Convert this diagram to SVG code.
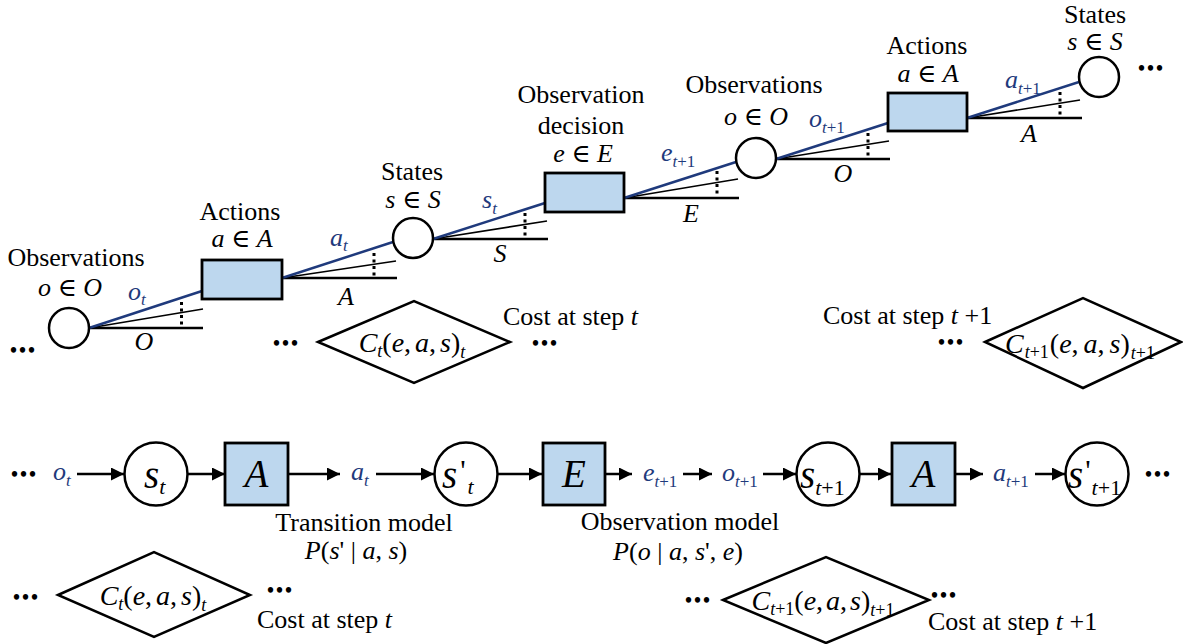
<svg xmlns="http://www.w3.org/2000/svg" width="1183" height="644" viewBox="0 0 1183 644">
  <style>
    text { font-family: "Liberation Serif", "Times New Roman", "DejaVu Serif", serif; font-size: 26px; fill: #000; }
    .it { font-style: italic; }
    .blue { fill: #1f3a7c; }
    .sub { font-size: 17px; }
    .cost { font-size: 28px; }
    .csub { font-size: 18px; }
    .big { font-size: 39px; }
    .bsub { font-size: 22px; }
    .dots { font-weight: bold; font-size: 20px; letter-spacing: 2px; }
    .node circle { fill: #fff; stroke: #000; stroke-width: 2.5; }
    .node rect { fill: #bdd7ee; stroke: #000; stroke-width: 2.8; }
    .node polygon { fill: #fff; stroke: #000; stroke-width: 2.5; stroke-linejoin: miter; }
    .bl { stroke: #1f3a7c; stroke-width: 2.5; }
    .thin { stroke: #000; stroke-width: 1.6; }
    .hz { stroke: #000; stroke-width: 2.6; }
    .dot { stroke: #000; stroke-width: 3; stroke-dasharray: 3 3.5; }
    .arrow { stroke: #000; stroke-width: 2.5; fill: none; marker-end: url(#ah); }
  </style>
  <defs>
    <marker id="ah" markerUnits="userSpaceOnUse" markerWidth="14" markerHeight="14" refX="13" refY="6.5" orient="auto">
      <path d="M0,0 L13,6.5 L0,13 z" fill="#000"/>
    </marker>
  </defs>

  <!-- ===== Upper chain: fan-out between consecutive nodes ===== -->
  <g id="connectors">
    <!-- segment 1: observations -> actions -->
    <line class="hz" x1="89" y1="328" x2="203" y2="328"/>
    <line class="thin" x1="89" y1="328" x2="203" y2="309"/>
    <line class="bl" x1="89" y1="328" x2="202" y2="291"/>
    <line class="dot" x1="181.5" y1="302" x2="181.5" y2="327"/>
    <!-- segment 2: actions -> states -->
    <line class="hz" x1="282" y1="278" x2="397" y2="278"/>
    <line class="thin" x1="282" y1="278" x2="396" y2="261"/>
    <line class="bl" x1="282" y1="278" x2="393" y2="242"/>
    <line class="dot" x1="374" y1="253" x2="374" y2="277"/>
    <!-- segment 3: states -> observation decision -->
    <line class="hz" x1="433" y1="239" x2="548" y2="239"/>
    <line class="thin" x1="433" y1="239" x2="547" y2="221"/>
    <line class="bl" x1="433" y1="239" x2="545" y2="203"/>
    <line class="dot" x1="525" y1="213" x2="525" y2="238"/>
    <!-- segment 4: observation decision -> observations -->
    <line class="hz" x1="624" y1="198" x2="739" y2="198"/>
    <line class="thin" x1="624" y1="198" x2="738" y2="179"/>
    <line class="bl" x1="624" y1="198" x2="736" y2="162"/>
    <line class="dot" x1="717" y1="171" x2="717" y2="197"/>
    <!-- segment 5: observations -> actions -->
    <line class="hz" x1="776" y1="159" x2="890" y2="159"/>
    <line class="thin" x1="776" y1="159" x2="889" y2="141"/>
    <line class="bl" x1="776" y1="159" x2="888" y2="123"/>
    <line class="dot" x1="868" y1="133" x2="868" y2="158"/>
    <!-- segment 6: actions -> states -->
    <line class="hz" x1="967" y1="118" x2="1082" y2="118"/>
    <line class="thin" x1="967" y1="118" x2="1080" y2="100"/>
    <line class="bl" x1="967" y1="118" x2="1079" y2="82"/>
    <line class="dot" x1="1060" y1="92" x2="1060" y2="117"/>

    <!-- lower chain arrows -->
    <line class="arrow" x1="77" y1="474" x2="124" y2="474"/>
    <line class="arrow" x1="188" y1="474" x2="225" y2="474"/>
    <line class="arrow" x1="288" y1="474" x2="340" y2="474"/>
    <line class="arrow" x1="376" y1="474" x2="434" y2="474"/>
    <line class="arrow" x1="497" y1="474" x2="542" y2="474"/>
    <line class="arrow" x1="605" y1="474" x2="632" y2="474"/>
    <line class="arrow" x1="683" y1="474" x2="712" y2="474"/>
    <line class="arrow" x1="763" y1="474" x2="796" y2="474"/>
    <line class="arrow" x1="860" y1="474" x2="891" y2="474"/>
    <line class="arrow" x1="955" y1="474" x2="983" y2="474"/>
    <line class="arrow" x1="1035" y1="474" x2="1065" y2="474"/>
  </g>

  <!-- edge labels of the upper chain -->
  <g id="edge-labels">
    <text x="128" y="300" class="blue it">o<tspan class="sub" dy="5">t</tspan></text>
    <text x="330" y="246" class="blue it">a<tspan class="sub" dy="5">t</tspan></text>
    <text x="482" y="208" class="blue it">s<tspan class="sub" dy="6">t</tspan></text>
    <text x="661" y="161" class="blue"><tspan class="it">e</tspan><tspan class="sub" dy="6"><tspan class="it">t</tspan>+1</tspan></text>
    <text x="809" y="127" class="blue"><tspan class="it">o</tspan><tspan class="sub" dy="6"><tspan class="it">t</tspan>+1</tspan></text>
    <text x="1005" y="88" class="blue"><tspan class="it">a</tspan><tspan class="sub" dy="6"><tspan class="it">t</tspan>+1</tspan></text>

    <text x="144" y="350" class="it" text-anchor="middle">O</text>
    <text x="346" y="305" class="it" text-anchor="middle">A</text>
    <text x="500" y="262" class="it" text-anchor="middle">S</text>
    <text x="691" y="222" class="it" text-anchor="middle">E</text>
    <text x="843" y="182" class="it" text-anchor="middle">O</text>
    <text x="1029" y="142" class="it" text-anchor="middle">A</text>
  </g>

  <!-- ===== Upper chain nodes ===== -->
  <g id="obs-1" class="node">
    <circle cx="69" cy="328" r="20"/>
    <text x="76" y="266" text-anchor="middle">Observations</text>
    <text x="70" y="296" text-anchor="middle"><tspan class="it">o</tspan> ∈ <tspan class="it">O</tspan></text>
  </g>
  <g id="act-1" class="node">
    <rect x="202" y="260" width="80" height="39"/>
    <text x="240" y="220" text-anchor="middle">Actions</text>
    <text x="242" y="247" text-anchor="middle"><tspan class="it">a</tspan> ∈ <tspan class="it">A</tspan></text>
  </g>
  <g id="state-1" class="node">
    <circle cx="413" cy="238" r="20"/>
    <text x="412" y="180" text-anchor="middle">States</text>
    <text x="413" y="208" text-anchor="middle"><tspan class="it">s</tspan> ∈ <tspan class="it">S</tspan></text>
  </g>
  <g id="obs-decision" class="node">
    <rect x="545" y="173" width="79" height="39"/>
    <text x="581" y="103" text-anchor="middle">Observation</text>
    <text x="581" y="134" text-anchor="middle">decision</text>
    <text x="583" y="162" text-anchor="middle"><tspan class="it">e</tspan> ∈ <tspan class="it">E</tspan></text>
  </g>
  <g id="obs-2" class="node">
    <circle cx="756" cy="158" r="20"/>
    <text x="754" y="93" text-anchor="middle">Observations</text>
    <text x="756" y="125" text-anchor="middle"><tspan class="it">o</tspan> ∈ <tspan class="it">O</tspan></text>
  </g>
  <g id="act-2" class="node">
    <rect x="888" y="93" width="79" height="38"/>
    <text x="927" y="54" text-anchor="middle">Actions</text>
    <text x="928" y="82" text-anchor="middle"><tspan class="it">a</tspan> ∈ <tspan class="it">A</tspan></text>
  </g>
  <g id="state-2" class="node">
    <circle cx="1099" cy="77" r="20"/>
    <text x="1095" y="23" text-anchor="middle">States</text>
    <text x="1095" y="50" text-anchor="middle"><tspan class="it">s</tspan> ∈ <tspan class="it">S</tspan></text>
  </g>

  <!-- upper cost diamonds -->
  <g id="cost-top-1" class="node">
    <polygon points="318,342 414,301 510,342 414,383"/>
    <text x="412" y="352" class="cost" text-anchor="middle"><tspan class="it">C</tspan><tspan class="csub it" dy="5">t</tspan><tspan dy="-5">(</tspan><tspan class="it">e</tspan>,<tspan class="it" dx="4">a</tspan>,<tspan class="it" dx="4">s</tspan>)<tspan class="csub it" dy="6">t</tspan></text>
    <text x="503" y="325">Cost at step <tspan class="it">t</tspan></text>
  </g>
  <g id="cost-top-2" class="node">
    <polygon points="985,342 1083,298 1181,342 1083,388"/>
    <text x="1080" y="353" class="cost" text-anchor="middle"><tspan class="it">C</tspan><tspan class="csub" dy="5" dx="1"><tspan class="it">t</tspan>+1</tspan><tspan dy="-5" dx="1">(</tspan><tspan class="it">e</tspan>,<tspan class="it" dx="5">a</tspan>,<tspan class="it" dx="5">s</tspan>)<tspan class="csub" dy="6" dx="1"><tspan class="it">t</tspan>+1</tspan></text>
    <text x="823" y="324">Cost at step <tspan class="it">t</tspan> +1</text>
  </g>

  <!-- ellipses of the upper chain -->
  <g id="ellipses-top">
    <text class="dots" x="10" y="357">•••</text>
    <text class="dots" x="273" y="350">•••</text>
    <text class="dots" x="532" y="350">•••</text>
    <text class="dots" x="938" y="349">•••</text>
    <text class="dots" x="1138" y="75">•••</text>
  </g>

  <!-- ===== Lower chain ===== -->
  <g id="o-t">
    <text x="53" y="480" class="blue it">o<tspan class="sub" dy="6">t</tspan></text>
  </g>
  <g id="s-t" class="node">
    <circle cx="156" cy="474" r="31.5"/>
    <text x="144" y="488" class="it big">s<tspan class="bsub" dy="6">t</tspan></text>
  </g>
  <g id="act-t" class="node">
    <rect x="225" y="443" width="63" height="62"/>
    <text x="256.5" y="487" class="it big" text-anchor="middle">A</text>
  </g>
  <g id="a-t">
    <text x="351" y="480" class="blue it">a<tspan class="sub" dy="6">t</tspan></text>
  </g>
  <g id="s-prime-t" class="node">
    <circle cx="466" cy="474" r="31.5"/>
    <text x="442" y="488" class="big"><tspan class="it">s</tspan><tspan dx="3" font-size="30" dy="-8">'</tspan><tspan class="bsub it" dx="2" dy="14">t</tspan></text>
  </g>
  <g id="obs-choice" class="node">
    <rect x="543" y="443" width="62" height="62"/>
    <text x="574" y="487" class="it big" text-anchor="middle">E</text>
  </g>
  <g id="e-t1">
    <text x="643" y="481" class="blue"><tspan class="it">e</tspan><tspan class="sub" dy="6"><tspan class="it">t</tspan>+1</tspan></text>
  </g>
  <g id="o-t1">
    <text x="722" y="481" class="blue"><tspan class="it">o</tspan><tspan class="sub" dy="6"><tspan class="it">t</tspan>+1</tspan></text>
  </g>
  <g id="s-t1" class="node">
    <circle cx="828" cy="474" r="31.5"/>
    <text x="800" y="488" class="big"><tspan class="it">s</tspan><tspan class="bsub" dy="7"><tspan class="it">t</tspan>+1</tspan></text>
  </g>
  <g id="act-t1" class="node">
    <rect x="892" y="443" width="63" height="62"/>
    <text x="923.5" y="487" class="it big" text-anchor="middle">A</text>
  </g>
  <g id="a-t1">
    <text x="993" y="481" class="blue"><tspan class="it">a</tspan><tspan class="sub" dy="6"><tspan class="it">t</tspan>+1</tspan></text>
  </g>
  <g id="s-prime-t1" class="node">
    <circle cx="1097" cy="474" r="31.5"/>
    <text x="1068" y="488" class="big"><tspan class="it">s</tspan><tspan dx="2" font-size="30" dy="-8">'</tspan><tspan class="bsub" dx="1" dy="15"><tspan class="it">t</tspan>+1</tspan></text>
  </g>

  <!-- model captions -->
  <g id="transition-model">
    <text x="364" y="531" text-anchor="middle">Transition model</text>
    <text x="356" y="559" text-anchor="middle"><tspan class="it">P</tspan>(<tspan class="it">s</tspan>' | <tspan class="it">a</tspan>, <tspan class="it">s</tspan>)</text>
  </g>
  <g id="observation-model">
    <text x="680" y="530" text-anchor="middle">Observation model</text>
    <text x="678" y="560" text-anchor="middle"><tspan class="it">P</tspan>(<tspan class="it">o</tspan> | <tspan class="it">a</tspan>, <tspan class="it">s</tspan>', <tspan class="it">e</tspan>)</text>
  </g>

  <!-- lower cost diamonds -->
  <g id="cost-bottom-1" class="node">
    <polygon points="58,595 154,552 250,595 154,637"/>
    <text x="153" y="605" class="cost" text-anchor="middle"><tspan class="it">C</tspan><tspan class="csub it" dy="5">t</tspan><tspan dy="-5">(</tspan><tspan class="it">e</tspan>,<tspan class="it" dx="4">a</tspan>,<tspan class="it" dx="4">s</tspan>)<tspan class="csub it" dy="6">t</tspan></text>
    <text x="257" y="628">Cost at step <tspan class="it">t</tspan></text>
  </g>
  <g id="cost-bottom-2" class="node">
    <polygon points="723,600 826,557 929,600 826,643"/>
    <text x="823" y="610" class="cost" text-anchor="middle"><tspan class="it">C</tspan><tspan class="csub" dy="5"><tspan class="it">t</tspan>+1</tspan><tspan dy="-5">(</tspan><tspan class="it">e</tspan>,<tspan class="it" dx="3">a</tspan>,<tspan class="it" dx="3">s</tspan>)<tspan class="csub" dy="6"><tspan class="it">t</tspan>+1</tspan></text>
    <text x="928" y="630">Cost at step <tspan class="it">t</tspan> +1</text>
  </g>

  <!-- ellipses of the lower chain -->
  <g id="ellipses-bottom">
    <text class="dots" x="11" y="481">•••</text>
    <text class="dots" x="1145" y="481">•••</text>
    <text class="dots" x="13" y="604">•••</text>
    <text class="dots" x="267" y="597">•••</text>
    <text class="dots" x="685" y="607">•••</text>
    <text class="dots" x="931" y="602">•••</text>
  </g>
</svg>
